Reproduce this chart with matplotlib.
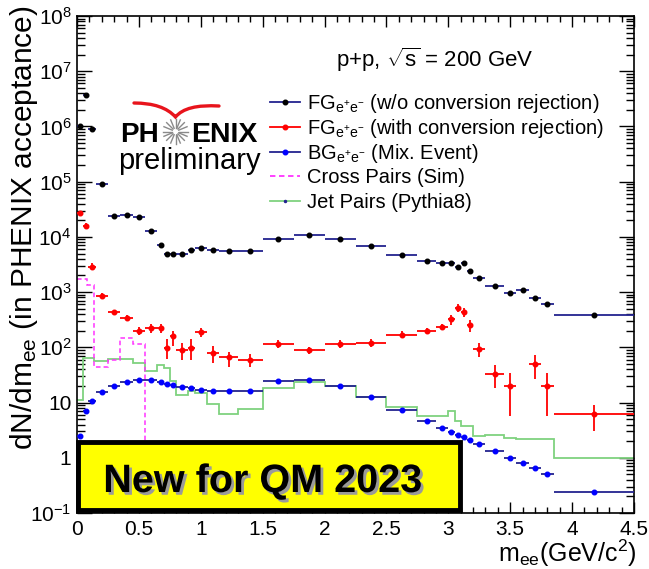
import numpy as np
import matplotlib.pyplot as plt
from matplotlib.lines import Line2D
from matplotlib.patches import Rectangle, PathPatch
from matplotlib.path import Path
from matplotlib.ticker import LogLocator, MultipleLocator, NullFormatter
import matplotlib.patheffects as pe

plt.rcParams['font.family'] = ['Liberation Sans', 'DejaVu Sans']
plt.rcParams['mathtext.fontset'] = 'custom'
plt.rcParams['mathtext.rm'] = 'Liberation Sans'
plt.rcParams['mathtext.it'] = 'Liberation Sans:italic'
plt.rcParams['mathtext.bf'] = 'Liberation Sans:bold'

# ---- mass bins shared by the data points (GeV/c^2)
bin_edges = [0, 0.05, 0.09, 0.15, 0.25, 0.35, 0.45, 0.55, 0.65, 0.70, 0.75,
             0.80, 0.90, 0.95, 1.05, 1.15, 1.30, 1.50, 1.75, 2.00, 2.25,
             2.50, 2.75, 2.90, 3.00, 3.05, 3.10, 3.15, 3.20, 3.30, 3.45,
             3.55, 3.65, 3.75, 3.85, 4.50]

# FG e+e- without conversion rejection
fg_noconv = [1.0e6, 3.7e6, 8.9e5, 8.9e4, 2.4e4, 2.5e4, 2.3e4, 1.27e4, 7.0e3,
             4.8e3, 4.8e3, 5.0e3, 5.7e3, 6.3e3, 5.9e3, 5.5e3, 5.6e3, 9.0e3,
             1.1e4, 9.0e3, 6.9e3, 4.7e3, 3.7e3, 3.4e3, 3.4e3, 2.9e3, 3.4e3,
             2.4e3, 1.77e3, 1.29e3, 9.6e2, 1.09e3, 7.9e2, 6.0e2, 3.8e2]

# FG e+e- with conversion rejection (nan = empty bin)
fg_conv = [2.7e4, 1.57e4, 2.9e3, 850, 430, 340, 196, 220, 220, 98, 160, 89,
           98, 186, 79, 66, 59, 115, 88, 115, 120, 170, 200, 230, 320, 520,
           440, 250, 92, 33, 20, np.nan, 50, 20, 6.1]
fg_conv_hi = [3.0e4, 1.75e4, 3.3e3, 950, 480, 390, 230, 265, 265, 141, 196,
              121, 141, 223, 105, 83, 75, 135, 103, 135, 140, 195, 228, 262,
              383, 607, 513, 311, 119, 48, 34, np.nan, 72, 34, 9.0]
fg_conv_lo = [2.45e4, 1.4e4, 2.55e3, 760, 385, 295, 165, 185, 185, 61, 105,
              60, 59, 155, 52, 44, 44, 98, 75, 98, 103, 148, 175, 202, 252,
              440, 357, 191, 67, 18, 5.7, np.nan, 27, 5.7, 3.0]

# BG e+e- from mixed events
bg_mix = [2.5, 7.0, 10.6, 15.6, 20, 23.4, 26, 26, 23.4, 21.9, 20.4, 19, 18,
          17.0, 16.2, 15.9, 16.2, 24.4, 26, 19.8, 12.6, 7.3, 4.7, 3.5, 2.9,
          2.6, 2.33, 2.09, 1.76, 1.33, 1.0, 0.80, 0.64, 0.50, 0.24]

# cross pairs from simulation
cross_edges = [0, 0.08, 0.14, 0.25, 0.35, 0.45, 0.55, 4.5]
cross_vals = [1700, 1350, 44, 60, 148, 117, 0]

# jet pairs from Pythia8
jet_edges = [0, 0.045, 0.14, 0.25, 0.45, 0.55, 0.65, 0.70, 0.75, 0.80, 0.90,
             0.95, 1.05, 1.15, 1.30, 1.50, 1.75, 2.00, 2.25, 2.50, 2.75, 3.00,
             3.05, 3.10, 3.20, 3.30, 3.45, 3.55, 3.85, 4.50]
jet_vals = [11, 63, 57, 62, 51, 37, 48, 42, 25, 13.6, 16.5, 15.2, 9.3, 6.3,
            7.8, 18, 23.7, 19.6, 12.8, 8.4, 5.7, 6.9, 4.6, 3.8, 2.45, 2.55,
            2.25, 2.15, 1.0]

y_ticks = [1e-1, 1, 10, 1e2, 1e3, 1e4, 1e5, 1e6, 1e7, 1e8]
y_ticklabels = ['10$^{-1}$', '1', '10', '10$^{2}$', '10$^{3}$', '10$^{4}$',
                '10$^{5}$', '10$^{6}$', '10$^{7}$', '10$^{8}$']
x_ticks = [0, 0.5, 1, 1.5, 2, 2.5, 3, 3.5, 4, 4.5]
x_ticklabels = ['0', '0.5', '1', '1.5', '2', '2.5', '3', '3.5', '4', '4.5']

NAVY = '#23238f'
RED = '#ff0000'
BLUE = '#0000ff'
GREEN = '#7fd27f'
MAGENTA = '#ff33ff'

W, H = 649, 569


def fpos(x, y):
    """pixel position (from top-left) -> figure fraction"""
    return x / W, 1 - y / H


fig = plt.figure(figsize=(W / 100, H / 100), dpi=100)
ax = fig.add_axes([77 / W, 1 - 513 / H, (634 - 77) / W, (513 - 16) / H])
ax.set_yscale('log', nonpositive='clip')
ax.set_xlim(0, 4.5)
ax.set_ylim(1e-1, 1e8)

edges = np.array(bin_edges)
centers = 0.5 * (edges[1:] + edges[:-1])
half = 0.5 * np.diff(edges)

# histograms
ax.stairs(jet_vals, jet_edges, baseline=None, color=GREEN, lw=1.3, zorder=2)
ax.stairs(cross_vals, cross_edges, baseline=None, color=MAGENTA, lw=1.1,
          linestyle=(0, (3, 2)), zorder=2)

# BG mixed event
ax.errorbar(centers, bg_mix, xerr=half, fmt='o', ms=3.3, mfc=BLUE, mec=BLUE,
            ecolor=NAVY, elinewidth=1.3, capsize=0, zorder=3)

# FG with conversion rejection
fgc = np.array(fg_conv)
ok = ~np.isnan(fgc)
yerr = [fgc[ok] - np.array(fg_conv_lo)[ok], np.array(fg_conv_hi)[ok] - fgc[ok]]
ax.errorbar(centers[ok], fgc[ok], xerr=half[ok], yerr=yerr, fmt='o', ms=3.3,
            mfc=RED, mec=RED, ecolor=RED, elinewidth=1.3, capsize=0, zorder=4)

# FG without conversion rejection
ax.errorbar(centers, fg_noconv, xerr=half, fmt='o', ms=3.3, mfc='black',
            mec='black', ecolor=NAVY, elinewidth=1.3, capsize=0, zorder=5)

# axes in ROOT style
ax.set_yticks(y_ticks)
ax.set_yticklabels(y_ticklabels)
ax.yaxis.set_minor_locator(LogLocator(base=10, subs=np.arange(2, 10), numticks=100))
ax.yaxis.set_minor_formatter(NullFormatter())
ax.set_xticks(x_ticks)
ax.set_xticklabels(x_ticklabels)
ax.xaxis.set_minor_locator(MultipleLocator(0.1))
ax.tick_params(which='both', direction='in', top=True, right=True,
               labelsize=15, width=1)
ax.tick_params(axis='y', which='major', length=11, pad=4)
ax.tick_params(axis='y', which='minor', length=5.5)
ax.tick_params(axis='x', which='major', length=8, pad=5)
ax.tick_params(axis='x', which='minor', length=4)
for s in ax.spines.values():
    s.set_linewidth(1.2)

# axis titles
fig.text(*fpos(24, 5), r'dN/dm$_{\mathrm{ee}}$ (in PHENIX acceptance)',
         rotation=90, ha='center', va='top', fontsize=21.5)
fig.text(*fpos(637, 562), r'm$_{\mathrm{ee}}$(GeV/c$^{2}$)',
         ha='right', va='baseline', fontsize=18)

# collision system
fig.text(*fpos(336, 67), r'p+p, $\sqrt{\mathrm{s}}$ = 200 GeV',
         ha='left', va='baseline', fontsize=16)

# legend
legend_rows = [
    (r'FG$_{\mathrm{e^{+}e^{-}}}$ (w/o conversion rejection)', NAVY, 'black', '-'),
    (r'FG$_{\mathrm{e^{+}e^{-}}}$ (with conversion rejection)', RED, RED, '-'),
    (r'BG$_{\mathrm{e^{+}e^{-}}}$ (Mix. Event)', NAVY, BLUE, '-'),
    ('Cross Pairs (Sim)', MAGENTA, None, (0, (3, 2))),
    ('Jet Pairs (Pythia8)', GREEN, NAVY, '-'),
]
for i, (label, lc, mc, ls) in enumerate(legend_rows):
    yc = 102 + i * 24.8
    x0, y0 = fpos(270, yc)
    x1, _ = fpos(300, yc)
    fig.add_artist(Line2D([x0, x1], [y0, y0], color=lc, lw=1.3, ls=ls,
                          transform=fig.transFigure))
    if mc is not None:
        ms = 3.3 if i < 3 else 1.5
        fig.add_artist(Line2D([(x0 + x1) / 2], [y0], marker='o', ms=ms,
                              color=mc, transform=fig.transFigure))
    fig.text(*fpos(307, yc + 7), label, ha='left', va='baseline', fontsize=14.5)

# PHENIX preliminary logo
fig.text(*fpos(120, 142), 'PH', weight='bold', fontsize=20, ha='left',
         va='baseline')
fig.text(*fpos(191, 142), 'ENIX', weight='bold', fontsize=20.5, ha='left',
         va='baseline')
fig.text(*fpos(118, 169), 'preliminary', fontsize=21, ha='left',
         va='baseline')
cx, cy = 175.5, 131.5
for ang in np.linspace(0, 2 * np.pi, 16, endpoint=False):
    xs = [cx + 3.5 * np.cos(ang), cx + 12.5 * np.cos(ang)]
    ys = [cy + 3.5 * np.sin(ang), cy + 12.5 * np.sin(ang)]
    fx = [x / W for x in xs]
    fy = [1 - y / H for y in ys]
    fig.add_artist(Line2D(fx, fy, color='#8a8a8a', lw=1.0,
                          transform=fig.transFigure))
swoosh_px = [(134, 103), (163, 103), (175.5, 117), (186, 104), (219, 106)]
swoosh = Path([fpos(x, y) for x, y in swoosh_px],
              [Path.MOVETO, Path.CURVE3, Path.CURVE3, Path.CURVE3, Path.CURVE3])
fig.add_artist(PathPatch(swoosh, fill=False, edgecolor='#e8141c', lw=2.4,
                         transform=fig.transFigure, capstyle='round'))

# announcement box
bx0, by0 = fpos(78, 510)
bx1, by1 = fpos(460, 442)
fig.add_artist(Rectangle((bx0, by0), bx1 - bx0, by1 - by0, facecolor='#ffff00',
                         edgecolor='black', lw=3.5, transform=fig.transFigure,
                         zorder=10))
fig.text(*fpos(263, 492), 'New for QM 2023', weight='bold', fontsize=28.5,
         ha='center', va='baseline', zorder=11,
         path_effects=[pe.SimplePatchShadow(offset=(2, -2),
                                            shadow_rgbFace='#9a9a9a', alpha=1),
                       pe.Normal()])

fig.savefig('out.png', dpi=100)
